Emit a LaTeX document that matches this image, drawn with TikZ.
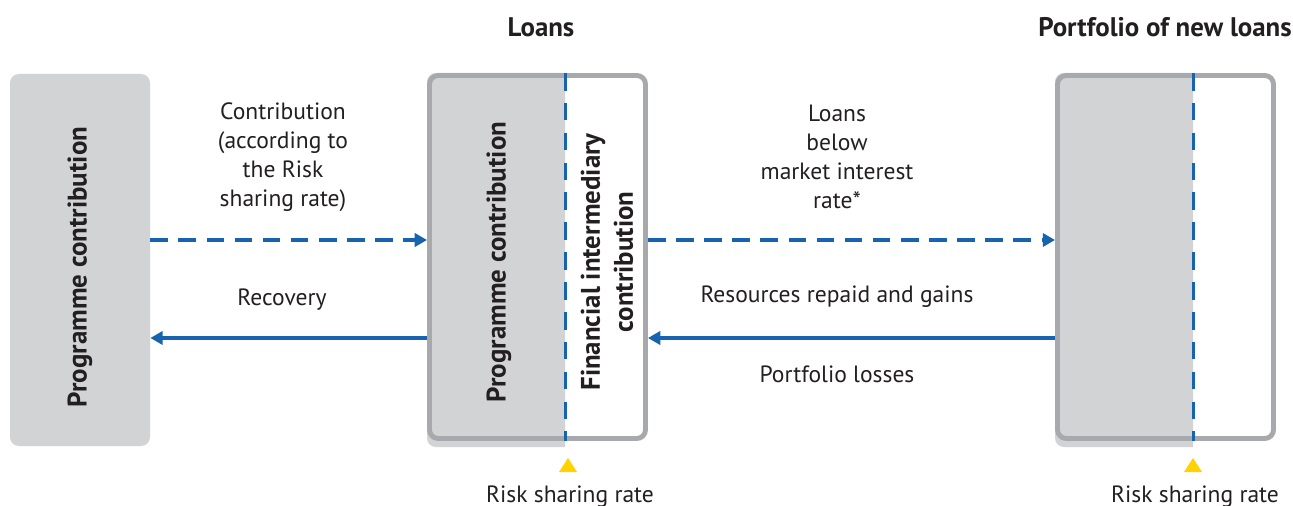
\documentclass[tikz,border=0pt]{standalone}
\usepackage{fontspec}
\setmainfont{PT Sans}
\usetikzlibrary{arrows.meta,fit}
\definecolor{boxgray}{HTML}{D1D3D4}
\definecolor{framegray}{HTML}{A7A9AC}
\definecolor{flowblue}{HTML}{1763AE}
\definecolor{tri}{HTML}{FFD200}
\definecolor{txt}{HTML}{231F20}
\begin{document}
\begin{tikzpicture}[x=0.02cm,y=-0.02cm,
  lbl/.style={font=\fontsize{13.4}{16.4}\selectfont, text=txt, align=center, inner sep=0},
  boldlbl/.style={font=\fontsize{15.3}{18.7}\selectfont\bfseries, text=txt, align=center, inner sep=0},
  frame/.style={draw=framegray, line width=2.8pt, rounded corners=5pt, inner sep=0},
  dasharrow/.style={draw=flowblue, line width=2.2pt, dash pattern=on 10pt off 6pt, -{Triangle[length=7pt,width=7.5pt]}},
  solidarrow/.style={draw=flowblue, line width=2.2pt, -{Triangle[length=7pt,width=7.5pt]}},
  divider/.style={draw=flowblue, line width=1.7pt, dash pattern=on 10pt off 7pt}
]
\useasboundingbox (0,0) rectangle (1293,506);

% left box
\node[fit={(10,74) (150,446)}, fill=boxgray, rounded corners=5pt, inner sep=0] (left) {};
\node[boldlbl, rotate=90] (leftlbl) at (80,267) {Programme contribution};

% middle box
\fill[boxgray] (565,73) [rounded corners=5pt] -- (427,73) -- (427,447) [sharp corners] -- (565,447) -- cycle;
\node[frame, fit={(429.5,75.5) (645.5,438.5)}] (mid) {};
\draw[divider] (565,73) -- (565,441);
\node[boldlbl, rotate=90] (midlbl) at (499,262) {Programme contribution};
\node[boldlbl, rotate=90] (fimlbl) at (607,262) {Financial intermediary\\contribution};
\node[boldlbl] (loanstitle) at (541,27) {Loans};
\fill[tri] (568,458) -- (577,472) -- (559,472) -- cycle;
\node[lbl, anchor=north] (midrsr) at (570,485) {Risk sharing rate};

% right box
\fill[boxgray] (1193,73) [rounded corners=5pt] -- (1055,73) -- (1055,447) [sharp corners] -- (1193,447) -- cycle;
\node[frame, fit={(1057.5,75.5) (1273.5,438.5)}] (right) {};
\draw[divider] (1193,73) -- (1193,441);
\node[boldlbl] (porttitle) at (1165,27) {Portfolio of new loans};
\fill[tri] (1193,458) -- (1202,472) -- (1184,472) -- cycle;
\node[lbl, anchor=north] (rightrsr) at (1195,485) {Risk sharing rate};

% arrows
\draw[dasharrow] (left.east |- 0,240) -- (mid.west |- 0,240);
\draw[solidarrow] (mid.west |- 0,338) -- (left.east |- 0,338);
\draw[dasharrow] (mid.east |- 0,240) -- (right.west |- 0,240);
\draw[solidarrow] (right.west |- 0,338) -- (mid.east |- 0,338);

% labels
\node[lbl] (contrib) at (283,157) {Contribution\\(according to\\the Risk\\sharing rate)};
\node[lbl] (recovery) at (282,300) {Recovery};
\node[lbl] (below) at (837,157) {Loans\\below\\market interest\\rate*};
\node[lbl] (repaid) at (837,297) {Resources repaid and gains};
\node[lbl] (losses) at (837,374) {Portfolio losses};
\end{tikzpicture}
\end{document}
